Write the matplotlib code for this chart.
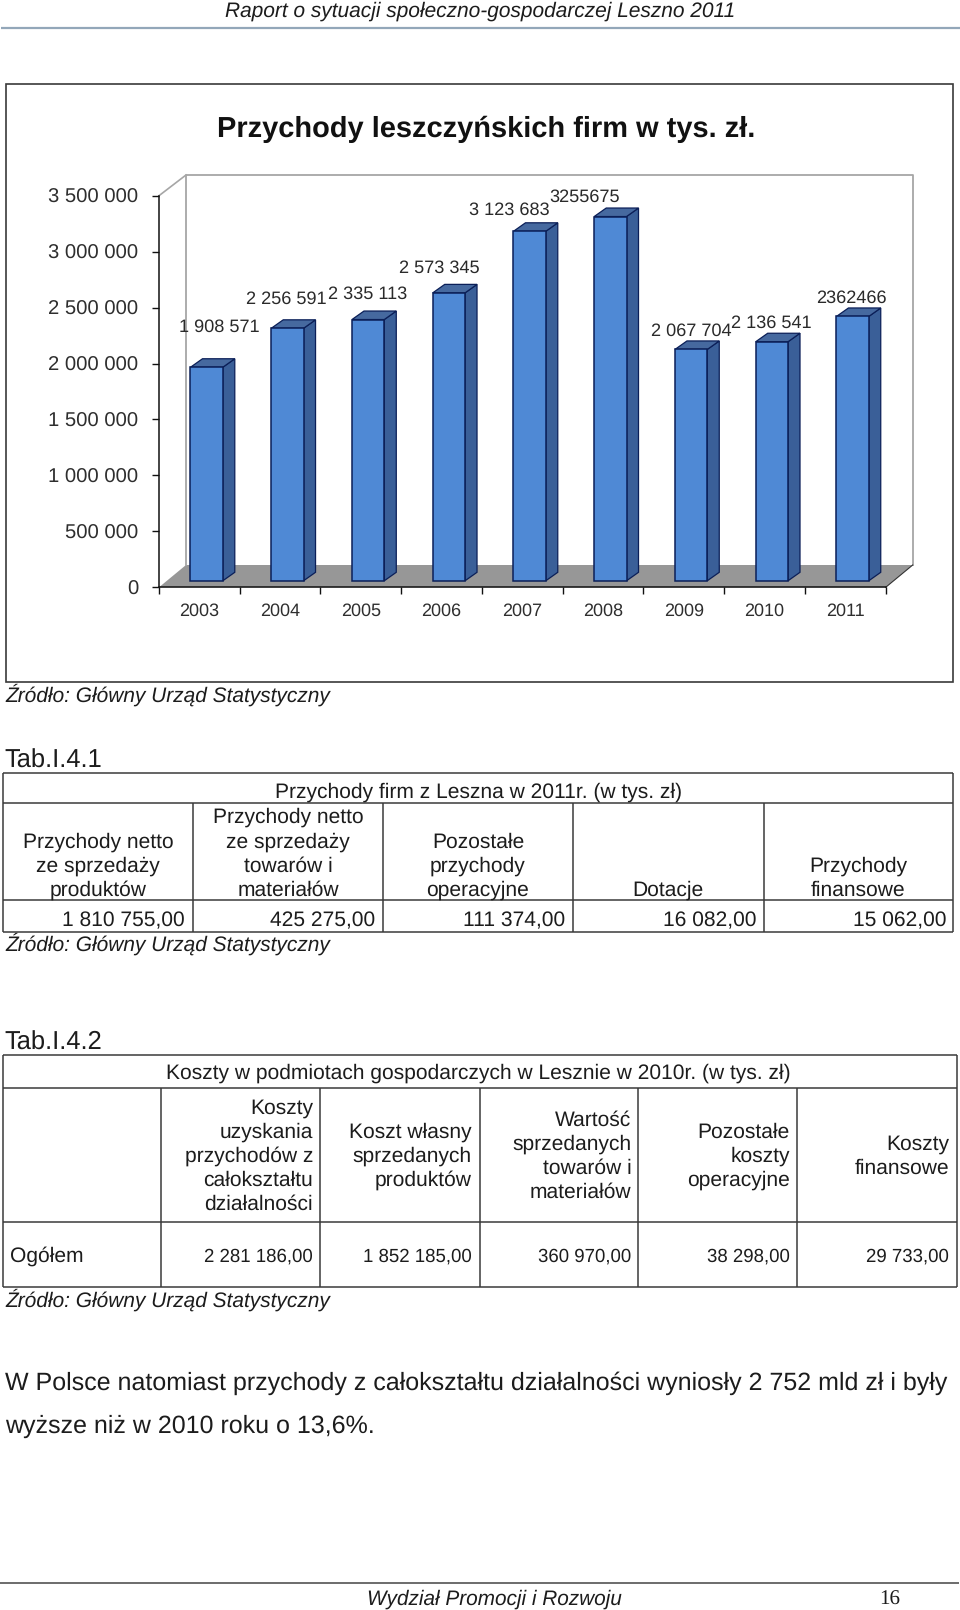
import matplotlib
matplotlib.use("Agg")
import matplotlib.pyplot as plt
from matplotlib.patches import Rectangle, Polygon
from matplotlib.ticker import FixedLocator, NullFormatter

# ---- data ----
years = ["2003", "2004", "2005", "2006", "2007", "2008", "2009", "2010", "2011"]
revenue = [1908571, 2256591, 2335113, 2573345, 3123683, 3255675, 2067704, 2136541, 2362466]
revenue_labels = ["1 908 571", "2 256 591", "2 335 113", "2 573 345", "3 123 683",
                  "3255675", "2 067 704", "2 136 541", "2362466"]
y_ticks = [0, 500000, 1000000, 1500000, 2000000, 2500000, 3000000, 3500000]
y_tick_labels = ["0", "500 000", "1 000 000", "1 500 000", "2 000 000",
                 "2 500 000", "3 000 000", "3 500 000"]
chart_title = "Przychody leszczyńskich firm w tys. zł."

t1_title = "Przychody firm z Leszna w 2011r. (w tys. zł)"
t1_heads = [["Przychody netto", "ze sprzedaży", "produktów"],
            ["Przychody netto", "ze sprzedaży", "towarów i", "materiałów"],
            ["Pozostałe", "przychody", "operacyjne"],
            ["Dotacje"],
            ["Przychody", "finansowe"]]
t1_values = ["1 810 755,00", "425 275,00", "111 374,00", "16 082,00", "15 062,00"]

t2_title = "Koszty w podmiotach gospodarczych w Lesznie w 2010r. (w tys. zł)"
t2_heads = [["Koszty", "uzyskania", "przychodów z", "całokształtu", "działalności"],
            ["Koszt własny", "sprzedanych", "produktów"],
            ["Wartość", "sprzedanych", "towarów i", "materiałów"],
            ["Pozostałe", "koszty", "operacyjne"],
            ["Koszty", "finansowe"]]
t2_row = "Ogółem"
t2_values = ["2 281 186,00", "1 852 185,00", "360 970,00", "38 298,00", "29 733,00"]

source = "Źródło: Główny Urząd Statystyczny"
header = "Raport o sytuacji społeczno-gospodarczej Leszno 2011"
footer = "Wydział Promocji i Rozwoju"
page_no = "16"
para = ["W Polsce natomiast przychody z całokształtu działalności wyniosły 2 752 mld zł i były",
        "wyższe niż w 2010 roku o 13,6%."]

# ---- layout / style ----
W, H = 960, 1610
FONT = "Liberation Sans"
INK = "#1c1c1c"
LINE = "#3a3a3a"
plt.rcParams["font.family"] = [FONT, "DejaVu Sans"]
plt.rcParams["text.hinting"] = "no_hinting"

fig = plt.figure(figsize=(W / 100, H / 100), dpi=100, facecolor="white")
rend = fig.canvas.get_renderer()


def fit(text, width, **kw):
    t = fig.text(0, 0, text, fontsize=10, **kw)
    w = t.get_window_extent(rend).width
    t.remove()
    return 10 * width / w


page = fig.add_axes([0, 0, 1, 1])
page.set_xlim(0, W)
page.set_ylim(H, 0)
page.axis("off")

body = fit(t1_title, 407)
big = fit("Tab.I.4.1", 98)
src = fit(source, 324, style="italic")
para_fs = fit(para[0], 941)
t2_val_fs = fit(t2_values[0], 109)


def txt(x, y, s, size=body, ha="left", **kw):
    kw.setdefault("color", INK)
    page.text(x, y, s, fontsize=size, ha=ha, va="baseline", **kw)


def hline(y, x0, x1, c=LINE, lw=1.1):
    page.plot([x0, x1], [y, y], color=c, lw=lw, solid_capstyle="butt")


def vline(x, y0, y1, c=LINE, lw=1.1):
    page.plot([x, x], [y0, y1], color=c, lw=lw, solid_capstyle="butt")


# header / footer
hline(27.7, 1, 960, c="#93a7b9", lw=1.6)
txt(480.5, 16.7, header, size=fit(header, 510, style="italic"), ha="center", style="italic")
hline(1583, 0, 959, c="#444444", lw=1.1)
txt(367, 1605, footer, size=fit(footer, 255, style="italic"), style="italic")
txt(879, 1605, page_no, size=fit(page_no, 21, family="Liberation Serif"), family="Liberation Serif")

# chart frame
page.add_patch(Rectangle((6, 84), 947, 598, fc="white", ec="#3a3a3a", lw=1.2))
txt(486.5, 136.5, chart_title, size=fit(chart_title, 538, weight="bold"), ha="center",
    weight="bold", color="#111111")

# source notes
for yy in (701.7, 950.7, 1306.7):
    txt(5, yy, source, size=src, style="italic")

# table 1
txt(4, 767.5, "Tab.I.4.1", size=big)
x1 = [2.7, 192.7, 383.3, 573.3, 763.7, 953.3]
hline(772.7, x1[0], x1[-1]); hline(803.3, x1[0], x1[-1])
hline(900.3, x1[0], x1[-1]); hline(931.7, x1[0], x1[-1])
vline(x1[0], 772.7, 931.7); vline(x1[-1], 772.7, 931.7)
for x in x1[1:-1]:
    vline(x, 803.3, 931.7)
txt(478.5, 798, t1_title, ha="center")
t1_base = [823, 847.5, 872, 896]
t1_cent = [98, 288, 478, 668, 858]
t1_right = [184.8, 375, 565.5, 756, 946.5]
for head, cx in zip(t1_heads, t1_cent):
    for line, by in zip(head, t1_base[-len(head):]):
        txt(cx, by, line, ha="center")
for val, rx in zip(t1_values, t1_right):
    txt(rx, 926.2, val, ha="right")

# table 2
txt(4, 1049.3, "Tab.I.4.2", size=big)
x2 = [2.7, 161.3, 320.3, 479.5, 638.3, 797.3, 956.7]
hline(1054.7, x2[0], x2[-1]); hline(1087.7, x2[0], x2[-1])
hline(1221.7, x2[0], x2[-1]); hline(1286.7, x2[0], x2[-1])
vline(x2[0], 1054.7, 1286.7); vline(x2[-1], 1054.7, 1286.7)
for x in x2[1:-1]:
    vline(x, 1087.7, 1286.7)
txt(478.5, 1078.5, t2_title, ha="center")
t2_right = [313, 472, 631.3, 790, 949]
t2_mid = 1161.5
for head, rx in zip(t2_heads, t2_right):
    n = len(head)
    for k, line in enumerate(head):
        txt(rx, t2_mid + (k - (n - 1) / 2) * 24, line, ha="right")
txt(10, 1262, t2_row)
for val, rx in zip(t2_values, t2_right):
    txt(rx, 1261.3, val, size=t2_val_fs, ha="right")

# paragraph
txt(5, 1390, para[0], size=para_fs)
txt(5, 1433, para[1], size=para_fs)

# ---- chart ----
PX_L, PX_R, PX_T, PX_B = 159, 885.7, 195.7, 587.3
ax = fig.add_axes([PX_L / W, 1 - PX_B / H, (PX_R - PX_L) / W, (PX_B - PX_T) / H], facecolor="none")
ax.set_xlim(0, 9)
ax.set_ylim(0, 3500000)
UX = (PX_R - PX_L) / 9        # px per category
UY = 3500000 / (PX_B - PX_T)  # value per px

wall_dx, wall_dy = 27 / UX, 22.3 * UY
ax.add_patch(Polygon([(0, 0), (wall_dx, wall_dy), (9 + wall_dx, wall_dy), (9, 0)],
                     fc="#979797", ec="none", clip_on=False, zorder=1))
top_y = (PX_B - 175) * UY
ax.plot([wall_dx, wall_dx, 9 + wall_dx, 9 + wall_dx], [wall_dy, top_y, top_y, wall_dy],
        color="#a6a6a6", lw=1.3, clip_on=False, zorder=1)
ax.plot([0, wall_dx], [3500000, top_y], color="#a6a6a6", lw=1.2, clip_on=False, zorder=1)
ax.plot([9, 9 + wall_dx], [0, wall_dy], color="#333333", lw=0.8, clip_on=False, zorder=1.5)

centers = [i + 0.59 for i in range(len(revenue))]
bw = 0.40
floor = 6.5 * UY
dx, dy = 12 / UX, 8.5 * UY
EDGE = "#0b1f58"
for c, v in zip(centers, revenue):
    r = c + bw / 2
    l = c - bw / 2
    top = v + floor
    ax.add_patch(Polygon([(r, floor), (r + dx, floor + dy), (r + dx, top + dy), (r, top)],
                         fc="#3a5f98", ec=EDGE, lw=0.9, clip_on=False, zorder=2))
    ax.add_patch(Polygon([(l, top), (l + dx, top + dy), (r + dx, top + dy), (r, top)],
                         fc="#46699f", ec=EDGE, lw=0.9, clip_on=False, zorder=2))
ax.bar(centers, revenue, width=bw, bottom=floor, color="#4f89d5", edgecolor=EDGE,
       linewidth=1.1, zorder=3, clip_on=False)

lab_fs = fit("2 573 345", 80.5)
label_dx = [12.4, -1.3, -0.5, -9.8, -20.5, -25.3, -0.3, -1, -1.7]
label_dy = [40, 29, 25, 24.8, 21, 19, 18.5, 18.5, 18.5]
for c, v, s, ox, oy in zip(centers, revenue, revenue_labels, label_dx, label_dy):
    ax.annotate(s, (c, v + floor), xytext=(ox, oy), textcoords="offset pixels",
                ha="center", va="center", fontsize=lab_fs, color="#2a2a2a", zorder=5,
                annotation_clip=False)

for side in ("top", "right"):
    ax.spines[side].set_visible(False)
for side in ("left", "bottom"):
    ax.spines[side].set_color("#111111")
    ax.spines[side].set_linewidth(1.1)
    ax.spines[side].set_zorder(4)
ax.set_yticks(y_ticks)
ax.set_yticklabels(y_tick_labels, fontsize=fit("3 500 000", 90), color="#2e2e2e")
ax.tick_params(axis="y", length=5, width=1.0, color="#111111", pad=10)
ax.xaxis.set_major_locator(FixedLocator(list(range(10))))
ax.xaxis.set_major_formatter(NullFormatter())
ax.tick_params(axis="x", which="major", length=5, width=1.0, color="#111111")
ax.set_xticks([i + 0.5 for i in range(9)], minor=True)
ax.set_xticklabels(years, minor=True, fontsize=fit("2003", 40), color="#2e2e2e")
ax.tick_params(axis="x", which="minor", length=0, pad=11)

fig.savefig("out.png", dpi=100)
